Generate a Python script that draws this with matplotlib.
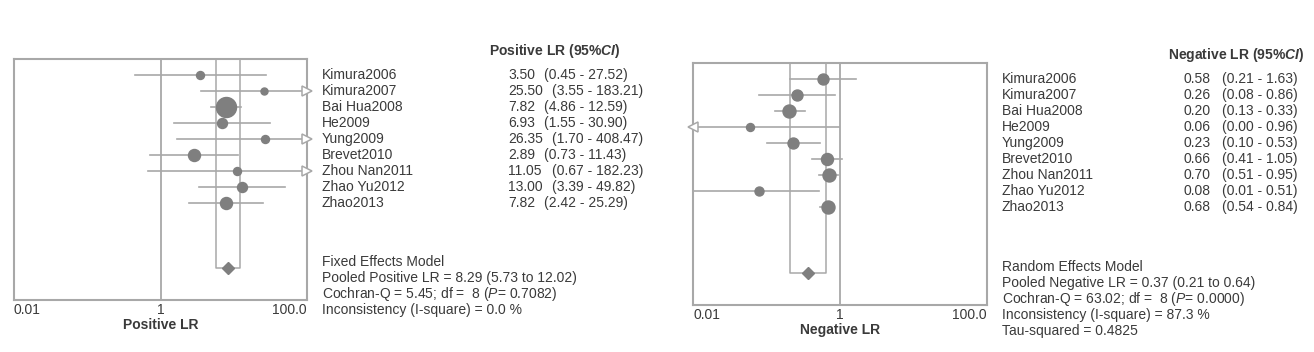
import matplotlib
matplotlib.use("Agg")
import matplotlib.pyplot as plt
from matplotlib.transforms import blended_transform_factory

plt.rcParams['font.family'] = ['Liberation Sans', 'DejaVu Sans']
plt.rcParams['mathtext.fontset'] = 'custom'
plt.rcParams['mathtext.rm'] = 'Liberation Sans'
plt.rcParams['mathtext.it'] = 'Liberation Sans:italic'
plt.rcParams['mathtext.bf'] = 'Liberation Sans:bold'
plt.rcParams['mathtext.bfit'] = 'Liberation Sans:italic:bold'

names = ['Kimura2006', 'Kimura2007', 'Bai Hua2008', 'He2009', 'Yung2009',
         'Brevet2010', 'Zhou Nan2011', 'Zhao Yu2012', 'Zhao2013']

pos_lr = [3.50, 25.50, 7.82, 6.93, 26.35, 2.89, 11.05, 13.00, 7.82]
pos_lo = [0.45, 3.55, 4.86, 1.55, 1.70, 0.73, 0.67, 3.39, 2.42]
pos_hi = [27.52, 183.21, 12.59, 30.90, 408.47, 11.43, 182.23, 49.82, 25.29]
pos_size = [8, 7, 20, 10, 8, 12, 8, 10, 12]   # marker diameter, px
pos_pooled = (8.29, 5.73, 12.02)

neg_lr = [0.58, 0.26, 0.20, 0.06, 0.23, 0.66, 0.70, 0.08, 0.68]
neg_lo = [0.21, 0.08, 0.13, 0.00, 0.10, 0.41, 0.51, 0.01, 0.54]
neg_hi = [1.63, 0.86, 0.33, 0.96, 0.53, 1.05, 0.95, 0.51, 0.84]
neg_size = [11, 11, 13, 8, 11, 12, 13, 9, 13]
neg_pooled = (0.37, 0.21, 0.64)

pos_notes = ['Fixed Effects Model',
             'Pooled Positive LR = 8.29 (5.73 to 12.02)',
             r'Cochran-Q = 5.45; df =  8 ($P$= 0.7082)',
             'Inconsistency (I-square) = 0.0 %']
neg_notes = ['Random Effects Model',
             'Pooled Negative LR = 0.37 (0.21 to 0.64)',
             r'Cochran-Q = 63.02; df =  8 ($P$= 0.0000)',
             'Inconsistency (I-square) = 87.3 %',
             'Tau-squared = 0.4825']

W, H = 1314, 352
XMIN, XMAX = 0.01, 100
MARK = '#7f7f7f'
LINE = '#a8a8a8'
TXT = '#3a3a3a'
FS = 10

fig = plt.figure(figsize=(W / 100, H / 100), dpi=100)


def forest(box, lr, lo, hi, sizes, pooled, header, xlabel, notes, text_x):
    l, t, r, b = box
    ax = fig.add_axes([l / W, 1 - b / H, (r - l) / W, (b - t) / H])
    ax.set_xscale('log')
    ax.set_xlim(XMIN, XMAX)
    ax.set_ylim(14.1, -1)
    ax.axvline(1, color=LINE, lw=1.3, zorder=1)

    # pooled estimate box + diamond
    est, plo, phi = pooled
    yd = 12.12
    ax.plot([plo, plo, phi, phi], [-1, yd, yd, -1], color=LINE, lw=1.1, zorder=1)
    ax.plot([est], [yd], 'D', ms=6.5, color=MARK, zorder=3)

    for i in range(len(lr)):
        a = max(lo[i], XMIN)
        z = min(hi[i], XMAX)
        ax.plot([a, z], [i, i], color=LINE, lw=1.2, zorder=2)
        if hi[i] > XMAX:
            ax.plot([XMAX], [i], '>', ms=7, mfc='white', mec=LINE, mew=1.1,
                    clip_on=False, zorder=4)
        if lo[i] < XMIN:
            ax.plot([XMIN], [i], '<', ms=7, mfc='white', mec=LINE, mew=1.1,
                    clip_on=False, zorder=4)
        ax.plot([lr[i]], [i], 'o', ms=sizes[i] / 1.389, color=MARK, zorder=3)

    for s in ax.spines.values():
        s.set_color(LINE)
        s.set_linewidth(1.5)
    ax.set_yticks([])
    ax.set_xticks([0.01, 1, 100], ['0.01', '1', '100.0'])
    ax.minorticks_off()
    ax.tick_params(axis='x', length=0, pad=2, labelsize=FS, labelcolor=TXT)
    labs = ax.get_xticklabels()
    labs[0].set_ha('left')
    labs[-1].set_ha('right')
    ax.set_xlabel(xlabel, fontsize=FS, fontweight='bold', color=TXT, labelpad=1)

    tr = blended_transform_factory(fig.transFigure, ax.transData)
    nx, hx, vx, cx = [v / W for v in text_x]
    ax.text(hx, -1.5, header, transform=tr, fontsize=FS, fontweight='bold',
            color=TXT, va='center', clip_on=False)
    for i in range(len(lr)):
        ax.text(nx, i, names[i], transform=tr, fontsize=FS, color=TXT,
                va='center', clip_on=False)
        val = f'{lr[i]:.2f}'
        ax.text(vx, i, val, transform=tr, fontsize=FS, color=TXT,
                va='center', clip_on=False)
        shift = 0.0 if len(val) <= 4 else 8 / W
        ax.text(cx + shift, i, f'({lo[i]:.2f} - {hi[i]:.2f})', transform=tr,
                fontsize=FS, color=TXT, va='center', clip_on=False)
    for k, line in enumerate(notes):
        ax.text(nx, 11.72 + k * 1.0, line, transform=tr, fontsize=FS,
                color=TXT, va='center', clip_on=False)
    return ax


forest((14, 59, 307, 300), pos_lr, pos_lo, pos_hi, pos_size, pos_pooled,
       r'Positive LR (95%$\mathbfit{CI}$)', 'Positive LR', pos_notes,
       (322, 489, 508, 544))
forest((693, 63, 987, 305), neg_lr, neg_lo, neg_hi, neg_size, neg_pooled,
       r'Negative LR (95%$\mathbfit{CI}$)', 'Negative LR', neg_notes,
       (1002, 1168, 1183, 1222))

fig.savefig('out.png', dpi=100)
